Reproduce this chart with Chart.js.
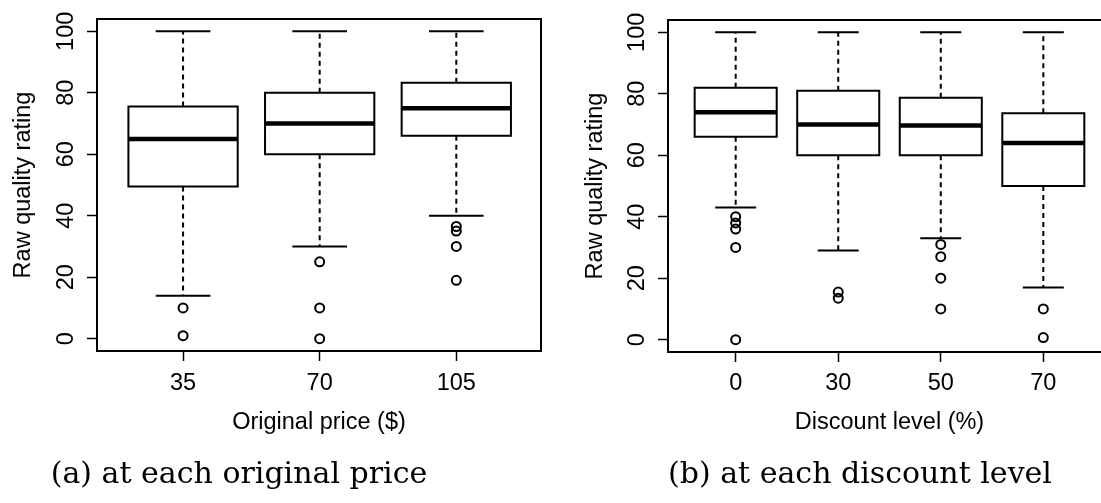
<!DOCTYPE html>
<html>
<head>
<meta charset="utf-8">
<script src="https://cdn.jsdelivr.net/npm/chart.js@4.4.1/dist/chart.umd.min.js"></script>
<style>
html, body { margin: 0; padding: 0; background: #fff; overflow: hidden; width: 1101px; height: 503px; }
canvas { position: absolute; top: 0; }
#chartA { left: 0; }
#chartB { left: 550px; }
.caption { position: absolute; top: 457px; line-height: 32px; font-family: "DejaVu Serif", serif; font-size: 30px; color: #000; white-space: nowrap; transform: translateX(-50%); }
</style>
</head>
<body>
<canvas id="chartA" width="550" height="503"></canvas>
<canvas id="chartB" width="600" height="503"></canvas>
<div class="caption" style="left:239px">(a) at each original price</div>
<div class="caption" style="left:860px">(b) at each discount level</div>
<script>
// values
var ratingTicks = [0, 20, 40, 60, 80, 100];

var priceLabels = ['35', '70', '105'];
var priceLow = [14, 30, 40];
var priceQ1 = [49.5, 60, 66];
var priceMedian = [65, 70, 75];
var priceQ3 = [75.5, 80, 83.3];
var priceHigh = [100, 100, 100];
var priceOutliers = [[10, 1], [25, 10, 0], [36.5, 35, 30, 19]];

var discountLabels = ['0', '30', '50', '70'];
var discountLow = [43, 29, 33, 17];
var discountQ1 = [66, 60, 60, 50];
var discountMedian = [74, 70, 69.7, 64];
var discountQ3 = [82, 81, 78.7, 73.7];
var discountHigh = [100, 100, 100, 100];
var discountOutliers = [[40, 38, 36, 30, 0], [15.5, 13.5], [31, 27, 20, 10], [10, 0.7]];

var ink = '#000';
var boxHalf = 0.4;
var capHalf = 0.2;
var labelFont = { family: '"Liberation Sans", Arial, sans-serif', size: 23.5 };

// several polylines in one dataset, broken by null points
function paths(list) {
  var pts = [];
  list.forEach(function(p) {
    p.forEach(function(xy) { pts.push({ x: xy[0], y: xy[1] }); });
    pts.push({ x: p[0][0], y: null });
  });
  return pts;
}

function lineSet(data, width, dash, cap) {
  return {
    data: data,
    showLine: true,
    spanGaps: false,
    borderColor: ink,
    borderWidth: width,
    borderDash: dash || [],
    borderCapStyle: cap || 'butt',
    borderJoinStyle: 'miter',
    pointRadius: 0,
    pointHoverRadius: 0,
    fill: false,
    tension: 0
  };
}

function boxDatasets(lo, q1, med, q3, hi, outl) {
  var whisk = [], caps = [], boxes = [], meds = [], pts = [];
  for (var i = 0; i < med.length; i++) {
    var c = i + 1;
    whisk.push([[c, q3[i]], [c, hi[i]]], [[c, q1[i]], [c, lo[i]]]);
    caps.push([[c - capHalf, hi[i]], [c + capHalf, hi[i]]], [[c - capHalf, lo[i]], [c + capHalf, lo[i]]]);
    boxes.push([[c - boxHalf, q1[i]], [c + boxHalf, q1[i]], [c + boxHalf, q3[i]], [c - boxHalf, q3[i]], [c - boxHalf, q1[i]]]);
    meds.push([[c - boxHalf, med[i]], [c + boxHalf, med[i]]]);
    outl[i].forEach(function(v) { pts.push({ x: c, y: v }); });
  }
  return [
    {
      data: pts,
      pointStyle: 'circle',
      pointRadius: 4.5,
      pointHoverRadius: 4.5,
      pointBorderWidth: 2,
      pointBorderColor: ink,
      pointBackgroundColor: 'rgba(0,0,0,0)'
    },
    lineSet(paths(meds), 4.5),
    lineSet(paths(boxes), 2, null, 'square'),
    lineSet(paths(caps), 2),
    lineSet(paths(whisk), 2, [5, 4])
  ];
}

// full box round the plot area
var framePlugin = {
  id: 'frame',
  afterDraw: function(chart) {
    var a = chart.chartArea, ctx = chart.ctx;
    ctx.save();
    ctx.strokeStyle = ink;
    ctx.lineWidth = 2;
    ctx.strokeRect(a.left, a.top, a.right - a.left, a.bottom - a.top);
    ctx.restore();
  }
};

function makeChart(id, labels, sets, cfg) {
  return new Chart(document.getElementById(id), {
    type: 'scatter',
    data: { datasets: sets },
    options: {
      responsive: false,
      animation: false,
      events: [],
      layout: { padding: cfg.pad },
      plugins: { legend: { display: false }, tooltip: { enabled: false } },
      scales: {
        x: {
          type: 'linear',
          min: cfg.xmin,
          max: cfg.xmax,
          afterBuildTicks: function(s) { s.ticks = labels.map(function(l, i) { return { value: i + 1 }; }); },
          afterFit: function(s) { s.height = cfg.xh; },
          ticks: {
            autoSkip: false, maxRotation: 0, minRotation: 0,
            padding: cfg.xpad, color: ink, font: labelFont,
            callback: function(v, i) { return labels[i]; }
          },
          grid: { display: true, drawOnChartArea: false, drawTicks: true, tickLength: 10, tickWidth: 1.5, tickColor: ink },
          border: { display: true, color: ink, width: 2 },
          title: { display: true, text: cfg.xtitle, color: ink, font: labelFont, padding: 0 }
        },
        y: {
          type: 'linear',
          min: -4,
          max: 104,
          afterBuildTicks: function(s) { s.ticks = ratingTicks.map(function(v) { return { value: v }; }); },
          afterFit: function(s) { s.width = cfg.yw; },
          ticks: {
            minRotation: 90, maxRotation: 90, crossAlign: 'center',
            padding: 1, color: ink, font: labelFont,
            callback: function(v) { return String(v); }
          },
          grid: { display: true, drawOnChartArea: false, drawTicks: true, tickLength: 10, tickWidth: 1.5, tickColor: ink },
          border: { display: true, color: ink, width: 2 },
          title: { display: true, text: 'Raw quality rating', color: ink, font: labelFont, padding: { top: cfg.ytpad, bottom: 0 } }
        }
      }
    },
    plugins: [framePlugin]
  });
}

makeChart('chartA', priceLabels,
  boxDatasets(priceLow, priceQ1, priceMedian, priceQ3, priceHigh, priceOutliers),
  { pad: { left: 0, top: 19, right: 9, bottom: 66 }, xmin: 0.37, xmax: 3.62, xh: 86, xpad: 8, yw: 97, ytpad: 9, xtitle: 'Original price ($)' });

makeChart('chartB', discountLabels,
  boxDatasets(discountLow, discountQ1, discountMedian, discountQ3, discountHigh, discountOutliers),
  { pad: { left: 0, top: 20, right: 39, bottom: 66 }, xmin: 0.34, xmax: 4.66, xh: 85, xpad: 7, yw: 118, ytpad: 31, xtitle: 'Discount level (%)' });
</script>
</body>
</html>
